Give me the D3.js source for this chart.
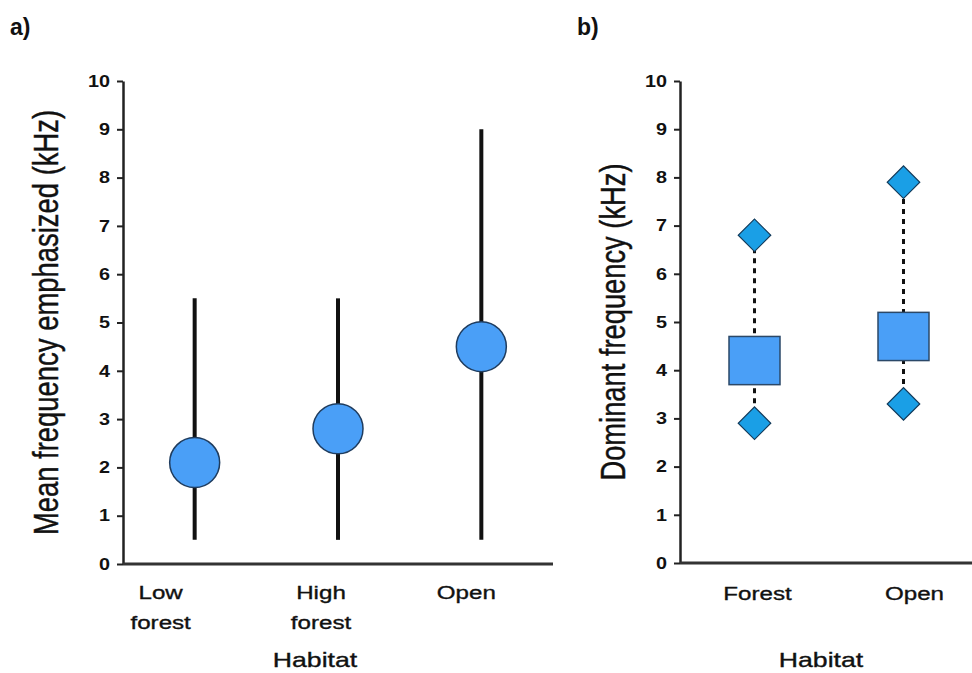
<!DOCTYPE html>
<html><head><meta charset="utf-8">
<script src="https://cdn.jsdelivr.net/npm/d3@7"></script>
<style>body{margin:0;background:#fff}svg{display:block}text{font-family:"Liberation Sans",Arial,sans-serif;fill:#111}</style>
</head><body>
<svg id="c" width="972" height="673"></svg>
<script>
// Panel a data
const habitatsA = ["Low forest", "High forest", "Open"];
const meanA = [2.1, 2.8, 4.5];
const lowA = [0.5, 0.5, 0.5];
const highA = [5.5, 5.5, 9.0];
// Panel b data
const habitatsB = ["Forest", "Open"];
const boxLowB = [3.7, 4.2];
const boxHighB = [4.7, 5.2];
const minB = [2.9, 3.3];
const maxB = [6.8, 7.9];
const yTicks = [0,1,2,3,4,5,6,7,8,9,10];

const svg = d3.select("#c");
const circFill = "#4a9ff7", circStroke = "#1f3c5e";
const diaFill = "#1a9fe6", diaStroke = "#123a5a";
const SX = 1.27;

function htext(g, x, y, size, str, anchor){
  return g.append("text").attr("transform",`translate(${x},${y}) scale(${SX},1)`)
    .attr("text-anchor", anchor||"middle").attr("font-size", size)
    .attr("stroke","#111").attr("stroke-width",0.35).text(str);
}

function axes(g, y, x0, x1, yLabel, labelX, labelLen){
  const ya = g.append("g").attr("transform", `translate(${x0},0)`)
    .call(d3.axisLeft(y).tickValues(yTicks).tickSize(6).tickPadding(7).tickSizeOuter(0));
  ya.select(".domain").attr("stroke","#222").attr("stroke-width",2.5);
  ya.selectAll(".tick line").attr("stroke","#222").attr("stroke-width",2);
  ya.selectAll(".tick text").attr("font-size",16.5).attr("font-weight","bold").style("fill","#111")
    .attr("transform",`scale(1.2,1)`).attr("x", -13/1.2);
  g.append("line").attr("x1",x0).attr("x2",x1).attr("y1",y(0)).attr("y2",y(0))
    .attr("stroke","#333").attr("stroke-width",3);
  const lab = g.append("text").attr("transform",`translate(${labelX},${(y(0)+y(10))/2}) rotate(-90) scale(1,${SX})`)
    .attr("text-anchor","middle").attr("dominant-baseline","central").attr("font-size",22)
    .attr("stroke","#111").attr("stroke-width",0.35).text(yLabel);
  const L = lab.node().getComputedTextLength();
  lab.attr("font-size", 22*labelLen/L);
}

// ---- Panel a ----
const gA = svg.append("g");
const yA = d3.scaleLinear().domain([0,10]).range([564,81]);
const xA = d3.scaleBand().domain(habitatsA).range([123,553]);
axes(gA, yA, 123, 553, "Mean frequency emphasized (kHz)", 46, 425);
const dA = habitatsA.map((h,i)=>({h, m:meanA[i], lo:lowA[i], hi:highA[i]}));
const cxA = d=>xA(d.h)+xA.bandwidth()/2;
gA.selectAll("line.w").data(dA).join("line").attr("class","w")
  .attr("x1",cxA).attr("x2",cxA)
  .attr("y1",d=>yA(d.lo)).attr("y2",d=>yA(d.hi)).attr("stroke","#111").attr("stroke-width",4);
gA.selectAll("circle").data(dA).join("circle")
  .attr("cx",cxA).attr("cy",d=>yA(d.m)).attr("r",25)
  .attr("fill",circFill).attr("stroke",circStroke).attr("stroke-width",1.5);
const labOffA = [-34, -17, -15];
dA.forEach((d,i)=>{
  d.h.split(" ").forEach((p,j)=>htext(gA, cxA(d)+labOffA[i], 599+j*30, 19, p));
});
htext(gA, 315, 667, 21, "Habitat");
svg.append("text").attr("x",10).attr("y",35).attr("font-size",23).attr("font-weight","bold").text("a)");

// ---- Panel b ----
const gB = svg.append("g");
const yB = d3.scaleLinear().domain([0,10]).range([563,81]);
const xB = d3.scaleBand().domain(habitatsB).range([680,978]);
axes(gB, yB, 680, 978, "Dominant frequency (kHz)", 613, 317);
const dB = habitatsB.map((h,i)=>({h, bl:boxLowB[i], bh:boxHighB[i], mn:minB[i], mx:maxB[i]}));
const cx = d=>xB(d.h)+xB.bandwidth()/2;
gB.selectAll("line.d").data(dB).join("line").attr("class","d")
  .attr("x1",cx).attr("x2",cx).attr("y1",d=>yB(d.mn)).attr("y2",d=>yB(d.mx))
  .attr("stroke","#111").attr("stroke-width",3).attr("stroke-dasharray","5,5");
gB.selectAll("rect").data(dB).join("rect")
  .attr("x",d=>cx(d)-25.5).attr("width",51).attr("y",d=>yB(d.bh)).attr("height",d=>yB(d.bl)-yB(d.bh))
  .attr("fill",circFill).attr("stroke","#2b4868").attr("stroke-width",1.5);
const diamond = d3.symbol().type(d3.symbolSquare).size(23*23);
const pts = dB.flatMap(d=>[{h:d.h,v:d.mn},{h:d.h,v:d.mx}]);
gB.selectAll("path.dm").data(pts).join("path").attr("class","dm")
  .attr("d",diamond).attr("transform",d=>`translate(${cx(d)},${yB(d.v)}) rotate(45)`)
  .attr("fill",diaFill).attr("stroke",diaStroke).attr("stroke-width",1.2);
const labOffB = [3, 11];
dB.forEach((d,i)=>htext(gB, cx(d)+labOffB[i], 600, 19, d.h));
htext(gB, 821, 667, 21, "Habitat");
svg.append("text").attr("x",577).attr("y",35).attr("font-size",23).attr("font-weight","bold").text("b)");
</script>
</body></html>
